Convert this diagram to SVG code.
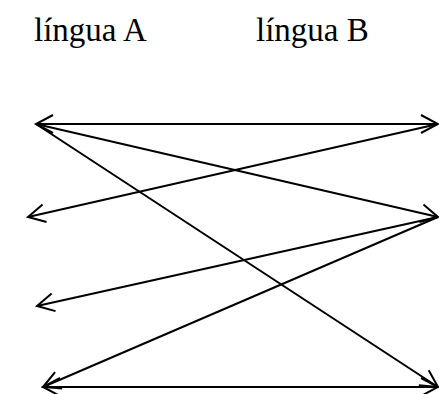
<svg xmlns="http://www.w3.org/2000/svg" width="439" height="394" viewBox="0 0 439 394">
<style>
.lbl{font-family:"Liberation Serif","Times New Roman",serif;font-size:33px;fill:#000}
.c{stroke:#000;stroke-width:2;fill:none}
</style>
<defs>
<marker id="ah" markerUnits="userSpaceOnUse" markerWidth="40" markerHeight="40" viewBox="-20 -20 40 40" refX="0" refY="0" orient="auto-start-reverse">
<path d="M-17,-9 L0,0 L-17,9" fill="none" stroke="#000" stroke-width="2"/>
</marker>
</defs>
<rect width="439" height="394" fill="#fff"/>
<g id="labelA"><text class="lbl" x="34" y="41">língua A</text></g>
<g id="labelB"><text class="lbl" x="256" y="41">língua B</text></g>
<g id="connectors">
<line class="c" x1="36" y1="124" x2="438" y2="124" marker-start="url(#ah)" marker-end="url(#ah)"/>
<line class="c" x1="36" y1="124" x2="438" y2="217" marker-end="url(#ah)"/>
<line class="c" x1="36" y1="124" x2="438" y2="387" marker-end="url(#ah)"/>
<line class="c" x1="438" y1="124" x2="28" y2="217" marker-end="url(#ah)"/>
<line class="c" x1="438" y1="217" x2="37" y2="306" marker-end="url(#ah)"/>
<line class="c" x1="438" y1="217" x2="43" y2="387" marker-end="url(#ah)"/>
<line class="c" x1="43" y1="387" x2="438" y2="387" marker-start="url(#ah)" marker-end="url(#ah)"/>
</g>
</svg>
